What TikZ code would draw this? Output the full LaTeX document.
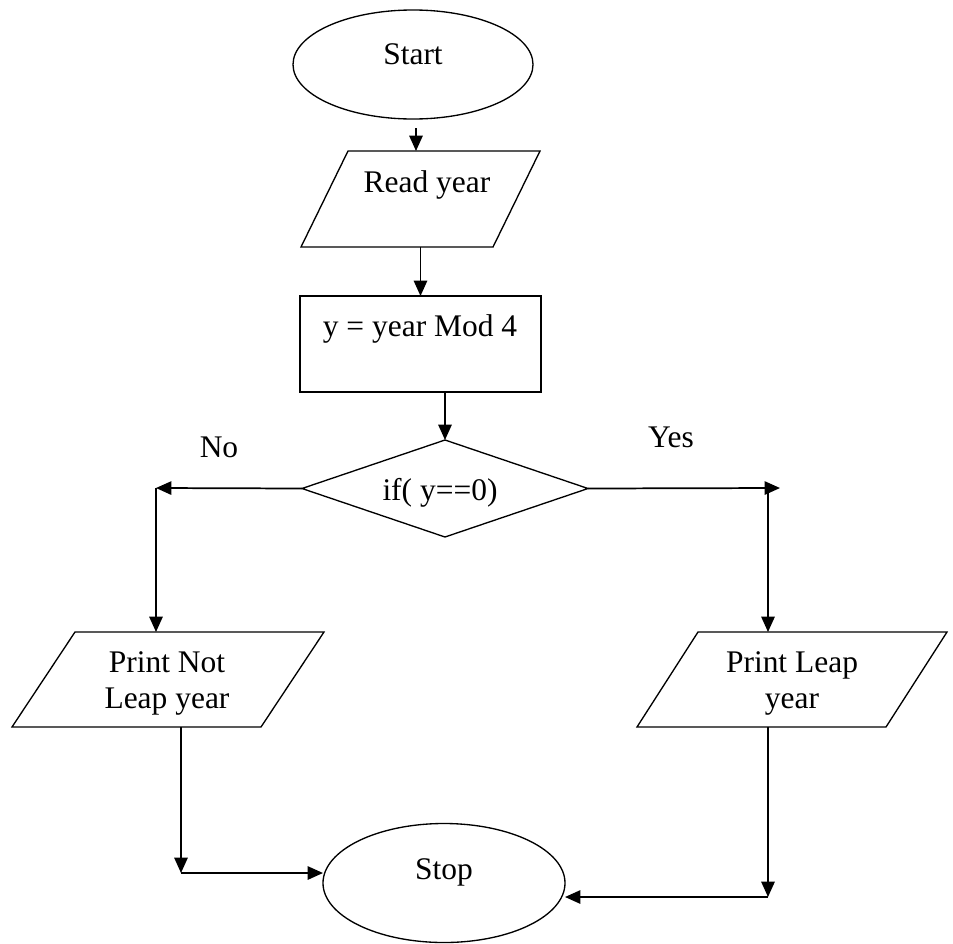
\documentclass[tikz,border=0pt]{standalone}
\usepackage{fontspec}
\setmainfont{Liberation Serif}
\usetikzlibrary{shapes.geometric,arrows.meta,calc}
\begin{document}
\begin{tikzpicture}[x=0.75pt,y=-0.75pt,
  shapeline/.style={draw=black, line width=1pt, inner sep=0pt, outer sep=0pt},
  framebox/.style={inner sep=0pt, outer sep=0pt},
  outline/.style={draw=black, line width=1pt, line join=miter},
  flowtext/.style={font=\fontsize{23.6pt}{27pt}\selectfont, inner sep=0pt, align=center},
  arr/.style={line width=1.3pt, -{Triangle[length=11.5pt,width=10pt]}}]
\useasboundingbox[fill=white] (0,0) rectangle (953,943);

% flowchart shapes
\node[shapeline, ellipse, minimum width=180pt, minimum height=81.75pt] (start) at (413,64.5) {};
% input/output boxes: a frame node, with its slanted outline drawn from the frame corners
\node[framebox, minimum width=179.25pt, minimum height=72pt] (read) at (420.5,199) {};
\draw[outline] ($(read.north west)+(47,0)$) -- (read.north east) -- ($(read.south east)-(47,0)$) -- (read.south west) -- cycle;
\node[shapeline, rectangle, minimum width=180.75pt, minimum height=72pt] (modbox) at (420.5,344) {};
\node[shapeline, diamond, minimum width=214.5pt, minimum height=72.75pt] (test) at (445,488.5) {};
\node[framebox, minimum width=234pt, minimum height=71.25pt] (notleap) at (168,679.5) {};
\draw[outline] ($(notleap.north west)+(63,0)$) -- (notleap.north east) -- ($(notleap.south east)-(63,0)$) -- (notleap.south west) -- cycle;
\node[framebox, minimum width=232.5pt, minimum height=71.25pt] (leap) at (792,679.5) {};
\draw[outline] ($(leap.north west)+(61,0)$) -- (leap.north east) -- ($(leap.south east)-(61,0)$) -- (leap.south west) -- cycle;
\node[shapeline, ellipse, minimum width=181.5pt, minimum height=89.25pt] (stop) at (444,883) {};

% texts
\node[flowtext, anchor=base] (starttext) at (413,64) {Start};
\node[flowtext, anchor=base] (readtext) at (427,192) {Read year};
\node[flowtext, anchor=base] (modtext) at (420,336) {y = year Mod 4};
\node[flowtext, anchor=base] (testtext) at (440,500) {if( y==0)};
\node[flowtext] (notleaptext) at (167,683) {Print Not\\Leap year};
\node[flowtext] (leaptext) at (792,683) {Print Leap\\year};
\node[flowtext, anchor=base] (stoptext) at (444,879) {Stop};
\node[flowtext, anchor=base] (notext) at (219,457) {No};
\node[flowtext, anchor=base] (yestext) at (671,447) {Yes};

% turning points of the connectors
\coordinate (startout) at ($(start.south)+(3,9)$);
\coordinate (nocorner) at (156,488);
\coordinate (yescorner) at (768,488);
\coordinate (notleapturn) at (181,873);
\coordinate (leapturn) at (768,897);

% connectors
\draw[arr] (startout) -- (startout |- read.north);
\draw[arr] (read.south) -- (modbox.north);
\draw[arr] (modbox.south -| test.north) -- (test.north);
\draw[arr] (test.west) -- (nocorner);
\draw[arr] (nocorner) -- (nocorner |- notleap.north);
\draw[arr] (test.east) -- ($(yescorner)+(12,0)$);
\draw[arr] (yescorner) -- (yescorner |- leap.north);
\draw[arr] (notleap.south -| notleapturn) -- (notleapturn);
\draw[arr] (notleapturn) -- (notleapturn -| stop.west);
\draw[arr] (leap.south -| leapturn) -- (leapturn);
\draw[arr] (leapturn) -- (leapturn -| stop.east);
\end{tikzpicture}
\end{document}
